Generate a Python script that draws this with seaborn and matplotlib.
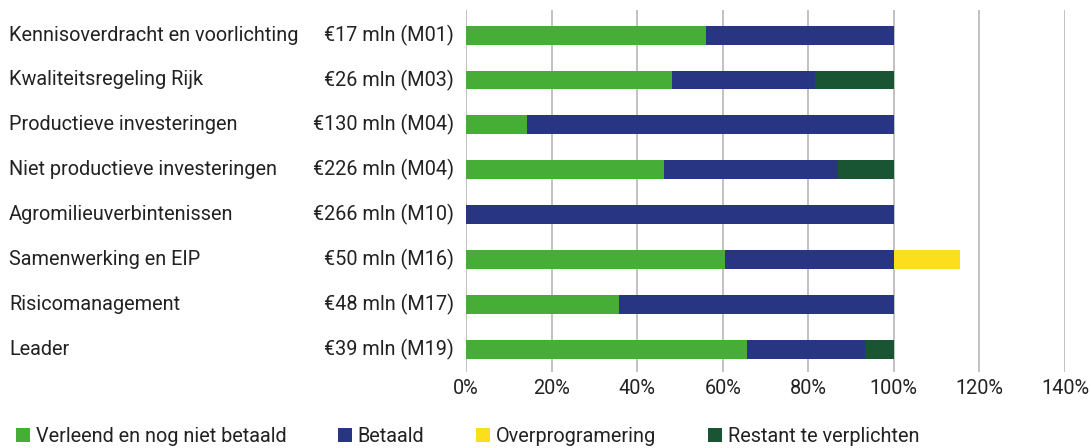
import matplotlib
matplotlib.use('Agg')
import matplotlib.pyplot as plt
import matplotlib.transforms as mtransforms
from matplotlib.patches import Patch
import numpy as np
import pandas as pd
import seaborn as sns

# ---------------------------------------------------------------
# Data (shares of budget)
# ---------------------------------------------------------------
measures = ['Kennisoverdracht en voorlichting', 'Kwaliteitsregeling Rijk',
            'Productieve investeringen', 'Niet productieve investeringen',
            'Agromilieuverbintenissen', 'Samenwerking en EIP',
            'Risicomanagement', 'Leader']
budgets = ['€17 mln (M01)', '€26 mln (M03)', '€130 mln (M04)', '€226 mln (M04)',
           '€266 mln (M10)', '€50 mln (M16)', '€48 mln (M17)', '€39 mln (M19)']

verleend = [0.561, 0.481, 0.142, 0.463, 0.0, 0.605, 0.357, 0.657]
betaald = [0.439, 0.334, 0.858, 0.406, 1.0, 0.395, 0.643, 0.275]
restant = [0.0, 0.185, 0.0, 0.131, 0.0, 0.0, 0.0, 0.068]
overprog = [0.0, 0.0, 0.0, 0.0, 0.0, 0.154, 0.0, 0.0]

series = ['Verleend en nog niet betaald', 'Betaald', 'Overprogramering',
          'Restant te verplichten']
colors = {'Verleend en nog niet betaald': '#46ae36',
          'Betaald': '#283583',
          'Overprogramering': '#fbdf1e',
          'Restant te verplichten': '#1a5533'}

df = pd.DataFrame({'measure': measures, 'verleend': verleend, 'betaald': betaald,
                   'restant': restant, 'overprog': overprog})
# cumulative ends, drawn back to front so the stacks overlap correctly
df['c_green'] = df['verleend']
df['c_blue'] = df['c_green'] + df['betaald']
df['c_dark'] = df['c_blue'] + df['restant']
df['c_yellow'] = df['c_dark'] + df['overprog']

# ---------------------------------------------------------------
# Plot
# ---------------------------------------------------------------
sns.set_style('white')
plt.rcParams['font.family'] = ['Roboto', 'DejaVu Sans']
FS = 14.3
TXT = '#222222'

fig = plt.figure(figsize=(10.91, 4.48), dpi=100)
ax = fig.add_axes([466 / 1091, 1 - 372 / 448, (1065 - 466) / 1091, 362 / 448])

layers = [('c_yellow', 'Overprogramering'), ('c_dark', 'Restant te verplichten'),
          ('c_blue', 'Betaald'), ('c_green', 'Verleend en nog niet betaald')]
for col, name in layers:
    sns.barplot(data=df, x=col, y='measure', orient='h', color=colors[name],
                width=0.42, linewidth=0, saturation=1, ax=ax, zorder=3)

ax.set_xlim(0, 1.4)
ax.set_ylim(len(measures) - 0.49, -0.56)
ax.set_xticks(np.arange(0, 1.41, 0.2))
ax.set_xticklabels([f'{int(round(t * 100))}%' for t in np.arange(0, 1.41, 0.2)],
                   fontsize=FS, color=TXT)
ax.tick_params(axis='x', length=0, pad=5)
ax.set_yticks([])
ax.set_xlabel('')
ax.set_ylabel('')
ax.grid(axis='x', color='#bdbdbd', linewidth=1.3, zorder=0)
ax.grid(axis='y', visible=False)
for s in ax.spines.values():
    s.set_visible(False)

# row labels: measure name (left) and budget (right aligned)
trans_l = mtransforms.blended_transform_factory(fig.transFigure, ax.transData)
for i, (m, b) in enumerate(zip(measures, budgets)):
    ax.text(9 / 1091, i, m, transform=trans_l, ha='left', va='center',
            fontsize=FS, color=TXT)
    ax.text(454 / 1091, i, b, transform=trans_l, ha='right', va='center',
            fontsize=FS, color=TXT)

handles = [Patch(facecolor=colors[s], edgecolor='none', label=s) for s in series]
fig.legend(handles=handles, loc='lower left', bbox_to_anchor=(-0.002, -0.035),
           ncol=4, frameon=False, fontsize=FS, handlelength=0.7, handleheight=0.7,
           handletextpad=0.3, columnspacing=2.6, labelcolor=TXT)

fig.savefig('out.png', dpi=100)
